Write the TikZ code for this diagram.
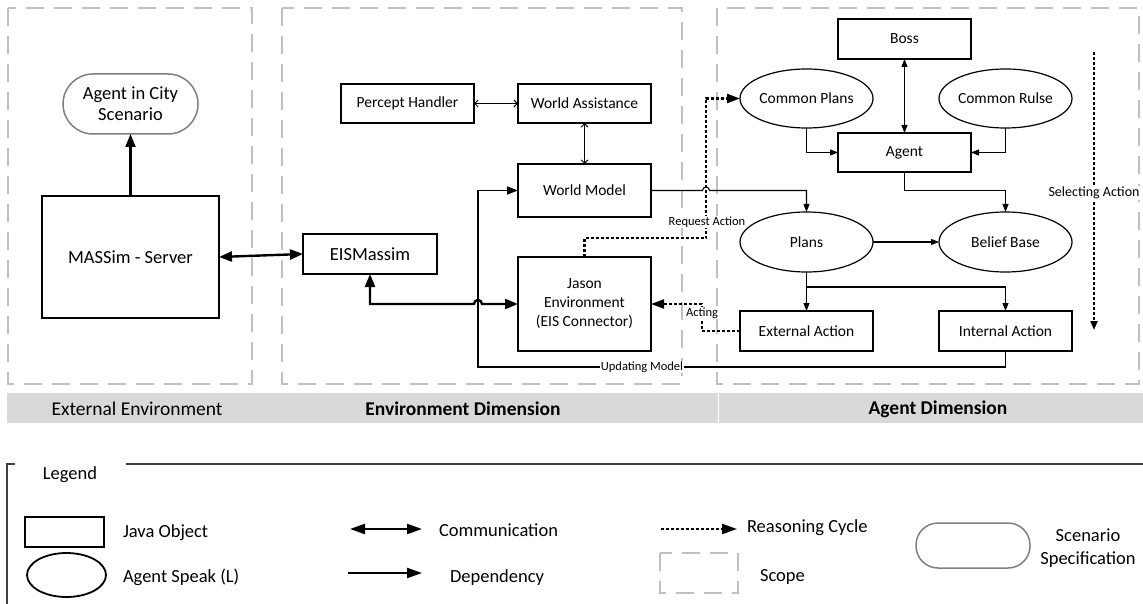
\documentclass[tikz,border=0pt]{standalone}
\usepackage{fontspec}
\setmainfont{Carlito}
\usetikzlibrary{arrows.meta,shapes.geometric,calc}
\definecolor{scopegray}{HTML}{C0C0C0}
\definecolor{bandgray}{HTML}{D9D9D9}
\definecolor{pillgray}{HTML}{7F7F7F}
\definecolor{framegray}{HTML}{404040}
\begin{document}
\begin{tikzpicture}[x=1pt,y=-1pt,
  every node/.style={inner sep=0pt, outer sep=0pt},
  boxfont/.style={font=\fontsize{15.5}{19}\selectfont},
  bigfont/.style={font=\fontsize{18.5}{21}\selectfont},
  legtxt/.style={font=\fontsize{18.5}{23}\selectfont},
  bandtxt/.style={font=\fontsize{19.5}{22}\selectfont},
  lbl/.style={fill=white, inner sep=1pt, font=\fontsize{12.5}{14}\selectfont},
  box/.style={draw, line width=1.2pt, minimum width=133pt, boxfont, align=center},
  thickbox/.style={draw, line width=2.2pt, bigfont, align=center},
  oval/.style={draw, ellipse, line width=1.2pt, minimum width=133pt, minimum height=59pt},
  scopeline/.style={draw=scopegray, line width=1.2pt, dash pattern=on 18pt off 10pt},
  comm/.style={line width=2.4pt, {Triangle[length=13pt,width=10pt]}-{Triangle[length=13pt,width=10pt]}},
  legcomm/.style={line width=2.4pt, {Triangle[length=15pt,width=10pt]}-{Triangle[length=15pt,width=10pt]}},
  depthick/.style={line width=2.2pt, -{Triangle[length=13pt,width=10pt]}},
  legdep/.style={line width=2.2pt, -{Triangle[length=15pt,width=10pt]}},
  depmid/.style={line width=1.5pt, -{Triangle[length=11pt,width=8pt]}},
  dep/.style={line width=1.1pt, -{Triangle[length=8pt,width=6pt]}},
  smallboth/.style={line width=1.1pt, {Triangle[length=8pt,width=6pt]}-{Triangle[length=8pt,width=6pt]}},
  openboth/.style={line width=0.9pt, {Straight Barb[length=3.5pt,width=7pt]}-{Straight Barb[length=3.5pt,width=7pt]}},
  reason/.style={line width=2.2pt, dash pattern=on 3pt off 2pt, -{Triangle[length=13pt,width=9pt]}},
  legreason/.style={line width=2.2pt, dash pattern=on 3pt off 2pt, -{Triangle[length=15pt,width=10pt]}},
  reasonsm/.style={line width=2pt, dash pattern=on 3pt off 2pt, -{Triangle[length=9pt,width=7pt]}},
  legframe/.style={draw=framegray, line width=1.3pt}
]
\useasboundingbox (0,0) rectangle (1143,604);

% three scopes
\draw[scopeline] (8,8) rectangle (252,384);
\draw[scopeline] (282,8) rectangle (682,384);
\draw[scopeline] (717,8) rectangle (1139,384);

% dimension band
\fill[bandgray] (7,393) rectangle (1143,423);
\draw[white, line width=1pt] (718,393) -- (718,423);
\node[bandtxt] (bext) at (137,409) {External Environment};
\node[bandtxt, font=\fontsize{19.5}{22}\selectfont\bfseries] (benv) at (463,409) {Environment Dimension};
\node[bandtxt, font=\fontsize{19.5}{22}\selectfont\bfseries] (bag) at (938,409) {Agent Dimension};

% external environment
\node[draw=pillgray, line width=1.5pt, rounded corners=30pt, minimum width=135pt, minimum height=60pt, bigfont, align=center] (scen) at (130.5,104) {Agent in City\\Scenario};
\node[thickbox, minimum width=177pt, minimum height=122pt] (mass) at (130.5,257) {MASSim - Server};

% environment dimension
\node[thickbox, minimum width=134pt, minimum height=40pt] (eis) at (370,254) {EISMassim};
\node[box, minimum height=39pt] (ph) at (407.5,103.5) {Percept Handler};
\node[box, minimum height=39pt] (wa) at (584.5,103.5) {World Assistance};
\node[box, minimum height=53pt] (wm) at (584.5,190.5) {World Model};
\node[box, minimum height=94pt] (je) at (584.5,304) {Jason\\Environment\\(EIS Connector)};

% agent dimension
\node[box, minimum height=40pt] (boss) at (904.5,39) {Boss};
\node[box, minimum height=39pt] (agent) at (904.5,152.5) {Agent};
\node[oval, label={[boxfont]center:Common Plans}] (cp) at (806.5,98.5) {};
\node[oval, label={[boxfont]center:Common Rulse}] (cr) at (1005.5,98.5) {};
\node[oval, minimum height=60pt, label={[boxfont]center:Plans}] (plans) at (806.5,242) {};
\node[oval, minimum height=60pt, label={[boxfont]center:Belief Base}] (bb) at (1005.5,242) {};
\node[box, minimum height=40pt] (ext) at (806.5,331) {External Action};
\node[box, minimum height=40pt] (int) at (1005.5,331) {Internal Action};

% routing points
\coordinate (pj) at (806.5,287);
\coordinate (rqx) at (706,238);
\coordinate (uL) at (478,367);
\coordinate (acx) at (702,331);
\coordinate (sa1) at (1094,52);
\coordinate (sa2) at (1094,330);

% connectors
\draw[depthick] (mass.north) -- (scen.south);
\draw[comm] (mass.east) -- (eis.west);
\draw[openboth] (ph.east) -- (wa.west);
\draw[openboth] (wa.south) -- (wm.north);
\draw[smallboth] (boss.south) -- (agent.north);
\draw[dep] (cp.south) |- (agent.west);
\draw[dep] (cr.south) |- (agent.east);
\draw[dep] (plans.east) -- (bb.west);
\draw[dep] (plans.south) -- (ext.north);
\draw[dep] (pj) -| (int.north);
\draw[dep] (wm.east) -- ($(rqx |- wm.east)+(-3.5,0)$) arc[start angle=180,end angle=360,radius=3.5] -- (plans.north |- wm.east) -- (plans.north);
\draw[dep] (agent.south) -- (agent.south |- wm.east) -| (bb.north);
\draw[depmid] (int.south) |- (uL) |- (wm.west);
\node[lbl] (upd) at (642,367) {Updating Model};
\draw[comm] (eis.south) -- (eis.south |- je.west) -- ($(uL |- je.west)+(-4,0)$) arc[start angle=180,end angle=360,radius=4] -- (je.west);

% reasoning cycle
\draw[reason] (je.north) |- (rqx) |- (cp.west);
\node[lbl] (rqlbl) at (707,222) {Request Action};
\draw[reason] (ext.west) -- (acx) |- (je.east);
\node[lbl] (aclbl) at (702,313) {Acting};
\draw[reasonsm] (sa1) -- (sa2);
\node[lbl, font=\fontsize{14}{16}\selectfont] (salbl) at (1094,193) {Selecting Action};

% legend
\draw[legframe] (7,604) -- (7,464) -- (15,464);
\draw[legframe] (126,464) -- (1143,464);
\node[legtxt] (legt) at (70,475) {Legend};
\node[draw, line width=2pt, minimum width=79pt, minimum height=30pt] (lj) at (64.5,532) {};
\node[legtxt, anchor=west] (ljt) at (123,533) {Java Object};
\node[draw, ellipse, line width=1.8pt, minimum width=79pt, minimum height=44pt] (la) at (66.5,575) {};
\node[legtxt, anchor=west] (lat) at (123,577) {Agent Speak (L)};
\coordinate (lc1) at (350,529);
\coordinate (lc2) at (422,529);
\draw[legcomm] (lc1) -- (lc2);
\node[legtxt, anchor=west] (lct) at (439,530) {Communication};
\coordinate (ld1) at (348,573);
\coordinate (ld2) at (422,573);
\draw[legdep] (ld1) -- (ld2);
\node[legtxt, anchor=west] (ldt) at (450,578) {Dependency};
\coordinate (lr1) at (661,529);
\coordinate (lr2) at (737,529);
\draw[legreason] (lr1) -- (lr2);
\node[legtxt, anchor=west] (lrt) at (747,528) {Reasoning Cycle};
\draw[scopeline] (660,553) rectangle (738,593);
\node[legtxt, anchor=west] (lst) at (760,577) {Scope};
\node[draw=pillgray, line width=1.5pt, rounded corners=22pt, minimum width=114pt, minimum height=45pt] (lp) at (973,545.5) {};
\node[legtxt, align=center] (lpt) at (1088,548) {Scenario\\Specification};
\end{tikzpicture}
\end{document}
